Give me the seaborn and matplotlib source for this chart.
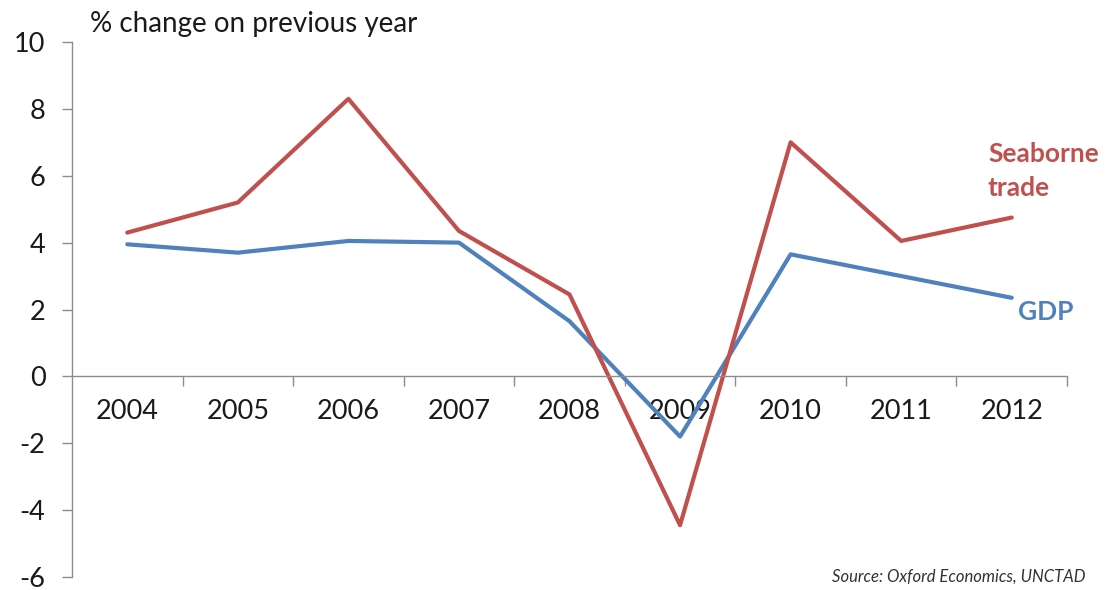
import matplotlib
matplotlib.use("Agg")
import matplotlib.pyplot as plt
import seaborn as sns
import pandas as pd

years = ["2004", "2005", "2006", "2007", "2008", "2009", "2010", "2011", "2012"]
seaborne_trade = [4.3, 5.2, 8.3, 4.35, 2.45, -4.45, 7.0, 4.05, 4.75]
gdp = [3.95, 3.7, 4.05, 4.0, 1.65, -1.8, 3.65, 3.0, 2.35]
y_ticks = [-6, -4, -2, 0, 2, 4, 6, 8, 10]

RED = "#C0504D"
BLUE = "#4F81BD"
AXIS_GREY = "#8C8C8C"
TEXT = "#1a1a1a"

sns.set_theme(style="white")
plt.rcParams["font.family"] = ["Lato", "DejaVu Sans"]

df = pd.DataFrame({
    "pos": list(range(len(years))) * 2,
    "value": seaborne_trade + gdp,
    "series": ["Seaborne trade"] * len(years) + ["GDP"] * len(years),
})

fig = plt.figure(figsize=(11.17, 5.9), dpi=100)
ax = fig.add_axes([72 / 1117, 13 / 590, (1067 - 72) / 1117, (577 - 42) / 590])

sns.lineplot(data=df, x="pos", y="value", hue="series", sort=False,
             palette={"Seaborne trade": RED, "GDP": BLUE},
             hue_order=["GDP", "Seaborne trade"],
             linewidth=3.0, legend=False, ax=ax)

ax.set_xlim(-0.5, len(years) - 0.5)
ax.set_ylim(-6, 10)
ax.set_xlabel("")
ax.set_ylabel("")

# axes: left spine plus a category axis sitting on the zero line
for side in ("top", "right"):
    ax.spines[side].set_visible(False)
ax.spines["bottom"].set_position(("data", 0))
for side in ("left", "bottom"):
    ax.spines[side].set_color(AXIS_GREY)
    ax.spines[side].set_linewidth(1.0)

ax.set_yticks(y_ticks)
ax.set_yticklabels([str(v) for v in y_ticks])
ax.tick_params(axis="y", which="major", left=True, length=7, width=1,
               color=AXIS_GREY, direction="out", pad=12, labelsize=19.5,
               labelcolor=TEXT)

# boundary ticks between categories, labels centred on each category
ax.set_xticks([i - 0.5 for i in range(1, len(years) + 1)])
ax.set_xticklabels([])
ax.set_xticks(list(range(len(years))), minor=True)
ax.set_xticklabels(years, minor=True)
ax.tick_params(axis="x", which="major", bottom=True, length=7, width=1,
               color=AXIS_GREY, direction="out")
ax.tick_params(axis="x", which="minor", bottom=True, length=0, pad=16,
               labelsize=19.5, labelcolor=TEXT)

fig.text(90 / 1117, 1 - 24 / 590, "% change on previous year", fontsize=20,
         color=TEXT, ha="left", va="center")

fig.text(988 / 1117, 1 - 171 / 590, "Seaborne\ntrade", fontsize=19,
         fontweight="bold", color=RED, ha="left", va="center",
         linespacing=1.45)
fig.text(1018 / 1117, 1 - 312 / 590, "GDP", fontsize=19,
         fontweight="bold", color=BLUE, ha="left", va="center")

fig.text(1085 / 1117, 1 - 577 / 590, "Source: Oxford Economics, UNCTAD",
         fontsize=12, fontstyle="italic", color="#333333", ha="right",
         va="center")

fig.savefig("out.png", dpi=100, facecolor="white")
